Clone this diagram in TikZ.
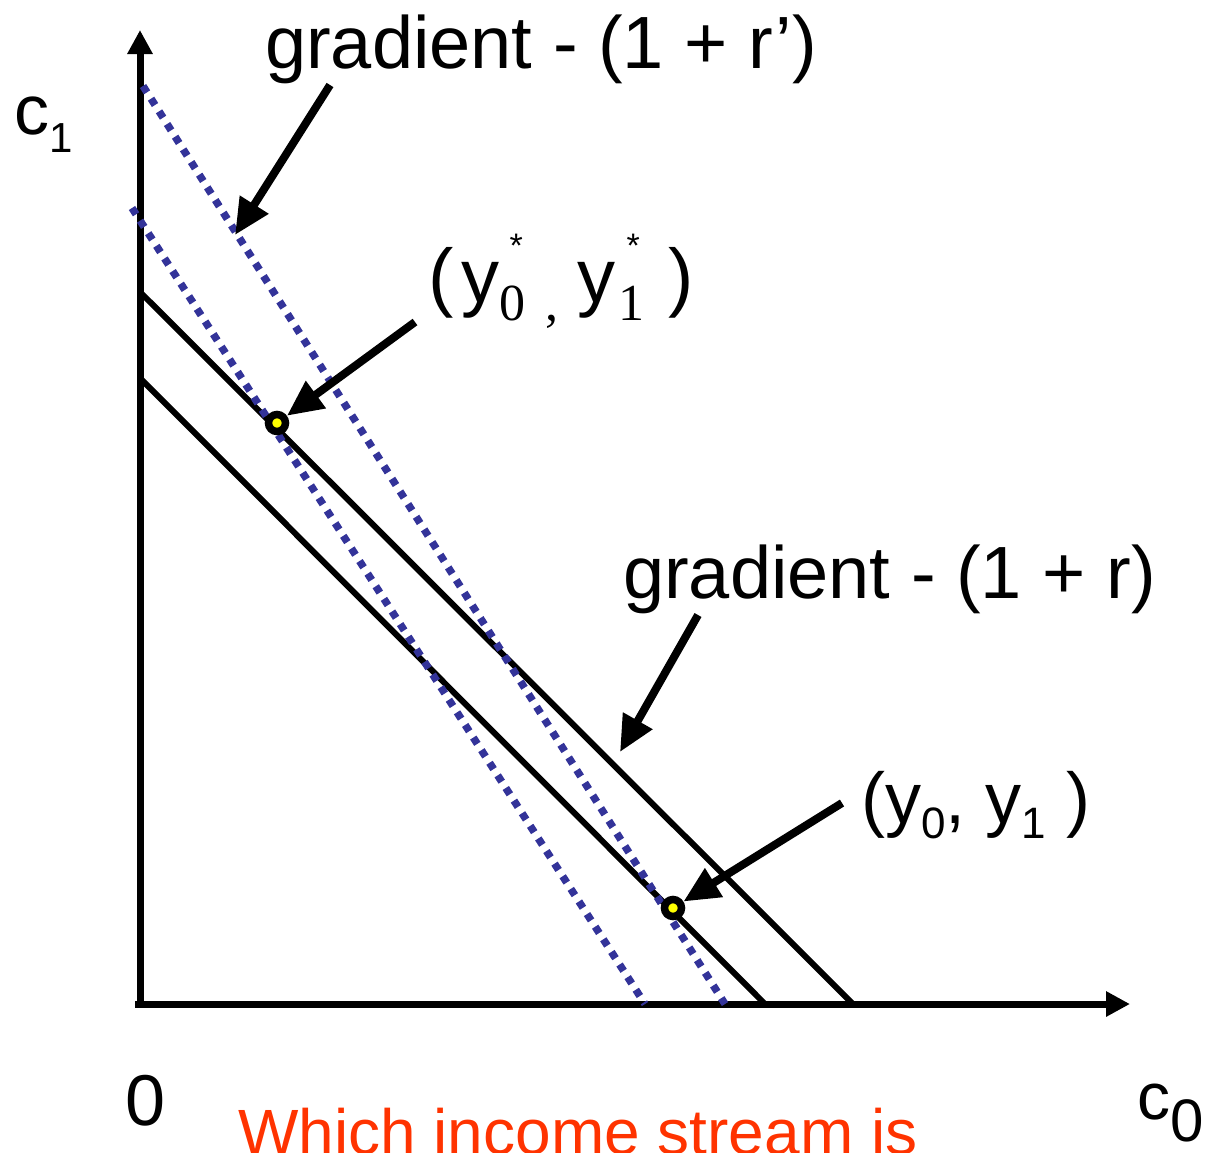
\documentclass[tikz,border=0pt]{standalone}
\usepackage{fontspec}
\setmainfont{Liberation Sans}
\newfontfamily\serifdigits{Liberation Serif}
\usetikzlibrary{arrows.meta}

\definecolor{dotblue}{RGB}{51,51,153}
\definecolor{askred}{RGB}{255,51,0}
\definecolor{ptyellow}{RGB}{255,255,0}

\newcommand{\bigfont}{\fontsize{74}{80}\selectfont}
\newcommand{\lowsub}[3][16pt]{\raisebox{-#1}{\fontsize{#2}{#2}\selectfont #3}}
\newcommand{\starsub}[2][10pt]{\rlap{\kern#1\raisebox{45pt}{\fontsize{34}{34}\selectfont *}}\raisebox{-18pt}{\serifdigits\fontsize{52}{52}\selectfont #2}}

\tikzset{
  axis/.style={line width=7pt, -{Triangle[length=24pt,width=24pt]}},
  budget/.style={line width=6pt},
  rate/.style={dotblue, line width=7.5pt, dash pattern=on 7.5pt off 7.5pt},
  pointer/.style={line width=8pt, -{Triangle[length=36pt,width=32pt]}},
  stream/.style={circle, draw=black, fill=ptyellow, line width=7.5pt, minimum size=17pt, inner sep=0pt},
  lbl/.style={inner sep=0pt, anchor=base west, font=\bigfont},
}

\begin{document}
\begin{tikzpicture}[x=1pt, y=-1pt]
\useasboundingbox (0,0) rectangle (1220,1152);

%AXES
\coordinate (O) at (140,1004);
\coordinate (xstart) at (135,1004);
\coordinate (xend) at (1130,1004);
\coordinate (ytop) at (140,30);
\draw [axis] (xstart) -- (xend);
\draw [axis] (O) -- (ytop);

%BUDGET LINES, GRADIENT -(1+r)
\coordinate (lowtop) at (140,378);
\coordinate (lowbot) at (765,1004);
\coordinate (hightop) at (140,292);
\coordinate (highbot) at (853,1004);
\draw [budget] (lowtop) -- (lowbot);
\draw [budget] (hightop) -- (highbot);

%DOTTED LINES, GRADIENT -(1+r')
\coordinate (innertop) at (132,208);
\coordinate (innerbot) at (645,1004);
\coordinate (outertop) at (143,86);
\coordinate (outerbot) at (725,1004);
\draw [rate] (innertop) -- (innerbot);
\draw [rate] (outertop) -- (outerbot);

%INCOME STREAMS
\node [stream] (ystar) at (277,423) {};
\node [stream] (yplain) at (673,908) {};

%LABELS
\node [lbl] (gradprime) at (265,68) {gradient - (1 + r’)};
\node [lbl] (gradplain) at (623,598) {gradient - (1 + r)};
\node [lbl, font=\fontsize{76}{80}\selectfont] (ystarlbl) at (428,302) {(\kern8pt y\starsub{0\kern20pt,}\kern19pt y\kern3pt\starsub[8pt]{1}\kern24pt)};
\node [lbl, font=\fontsize{72}{80}\selectfont] (yplainlbl) at (861,823) {(y\lowsub[15pt]{44}{0}, y\lowsub[15pt]{44}{1} )};
\node [lbl, font=\fontsize{70}{80}\selectfont] (cone) at (14,134) {c\lowsub[18pt]{42}{1}};
\node [lbl, font=\fontsize{66}{80}\selectfont] (czero) at (1137,1119) {c\lowsub[22pt]{60}{0}};
\node [lbl, font=\fontsize{72}{80}\selectfont] (zero) at (125,1125) {0};
\node [lbl, font=\fontsize{64}{70}\selectfont, text=askred] (question) at (238,1154) {Which income stream is};

%POINTERS
\coordinate (gradprimetail) at (330,85);
\coordinate (gradprimetip) at (235,235);
\coordinate (ystartail) at (415,322);
\coordinate (gradplaintail) at (698,615);
\coordinate (gradplaintip) at (620,752);
\coordinate (yplaintail) at (842,803);
\draw [pointer] (gradprimetail) -- (gradprimetip);
\draw [pointer] (ystartail) -- (ystar);
\draw [pointer] (gradplaintail) -- (gradplaintip);
\draw [pointer] (yplaintail) -- (yplain);

\end{tikzpicture}
\end{document}
